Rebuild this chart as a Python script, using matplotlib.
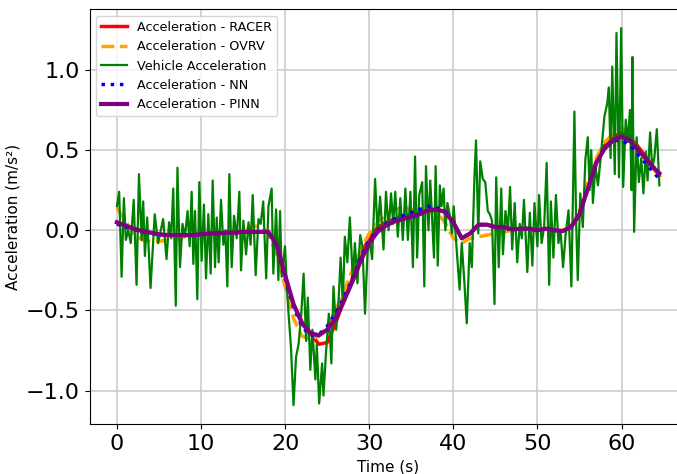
import matplotlib
matplotlib.use("Agg")
import matplotlib.pyplot as plt
import numpy as np

t_vehicle = [0.0, 0.27, 0.56, 0.83, 1.07, 1.35, 1.65, 2.0, 2.34, 2.62, 2.94, 3.13, 3.33, 3.6, 4.0, 4.5,
             4.9, 5.5, 5.9, 6.2, 6.45, 6.7, 7.0, 7.2, 7.5, 7.8, 8.1, 8.4, 8.65, 8.89, 9.09, 9.29,
             9.56, 9.8, 10.08, 10.35, 10.6, 10.87, 11.15, 11.39, 11.67, 11.87, 12.1, 12.38, 12.66, 12.9,
             13.13, 13.37, 13.65, 13.93, 14.25, 14.56, 14.76, 15.04, 15.36, 15.65, 15.9, 16.15, 16.5, 16.83,
             17.1, 17.4, 17.75, 18.02, 18.4, 18.6, 18.93, 19.2, 19.4, 19.6, 19.99, 20.2, 20.45, 20.7,
             21.0, 21.3, 21.6, 21.9, 22.2, 22.5, 22.7, 23.0, 23.25, 23.6, 23.77, 24.05, 24.4, 24.56,
             24.88, 25.2, 25.5, 25.75, 26.07, 26.35, 26.6, 26.86, 27.1, 27.4, 27.7, 28.05, 28.3, 28.6,
             28.93, 29.2, 29.5, 29.8, 30.05, 30.35, 30.7, 31.0, 31.3, 31.7, 32.0, 32.3, 32.6, 32.85,
             33.1, 33.4, 33.7, 34.0, 34.3, 34.6, 34.9, 35.2, 35.45, 35.7, 35.95, 36.3, 36.55, 36.75,
             37.05, 37.26, 37.7, 37.9, 38.15, 38.4, 38.6, 38.85, 39.05, 39.3, 39.55, 39.84, 40.05, 40.4,
             40.75, 41.0, 41.3, 41.6, 41.95, 42.2, 42.5, 42.7, 42.97, 43.2, 43.5, 43.8, 44.1, 44.35,
             44.6, 44.9, 45.1, 45.4, 45.7, 45.9, 46.2, 46.5, 46.75, 47.0, 47.3, 47.6, 47.9, 48.15,
             48.4, 48.8, 49.1, 49.4, 49.65, 50.0, 50.2, 50.5, 50.8, 51.1, 51.4, 51.6, 51.9, 52.2,
             52.5, 52.75, 53.05, 53.35, 53.7, 54.04, 54.4, 54.6, 54.8, 55.1, 55.4, 55.7, 55.99, 56.2,
             56.4, 56.6, 56.9, 57.2, 57.5, 57.97, 58.3, 58.5, 58.7, 58.9, 59.2, 59.4, 59.7, 59.96,
             60.2, 60.5, 60.75, 61.0, 61.2, 61.3, 61.5, 61.8, 62.06, 62.35, 62.6, 62.9, 63.1, 63.4,
             63.65, 63.9, 64.2, 64.5]
a_vehicle = [0.15, 0.24, -0.29, 0.2, -0.06, 0.0, -0.08, 0.19, -0.34, 0.35, -0.06, 0.18, -0.16, 0.08, -0.36, 0.1,
             -0.08, 0.07, -0.18, 0.05, -0.05, 0.26, -0.47, 0.39, -0.23, 0.04, -0.04, 0.12, -0.1, 0.24, -0.21, 0.12,
             -0.43, 0.3, -0.19, 0.16, -0.3, 0.1, -0.27, 0.31, -0.23, 0.08, -0.2, 0.19, -0.09, 0.0,
             -0.35, 0.35, -0.23, 0.09, -0.05, 0.24, -0.25, 0.06, -0.15, 0.05, -0.09, 0.22, -0.28, 0.07,
             0.04, 0.18, -0.3, 0.15, 0.26, -0.27, 0.13, -0.31, 0.12, -0.29, -0.1, -0.35, -0.55, -0.73,
             -1.09, -0.79, -0.71, -0.54, -0.27, -0.69, -0.42, -0.87, -0.62, -0.93, -0.71, -1.08, -0.83, -1.03,
             -0.75, -0.52, -0.83, -0.35, -0.62, -0.45, -0.17, -0.46, -0.04, -0.2, 0.08, -0.31, -0.08, -0.33,
             -0.03, -0.1, -0.52, -0.14, -0.06, -0.18, 0.32, -0.01, 0.21, -0.12, 0.24, 0.0, 0.23, 0.04,
             0.24, -0.04, 0.2, -0.06, 0.26, -0.06, 0.24, -0.23, 0.46, -0.17, 0.22, 0.3, -0.35, 0.4,
             0.0, 0.31, -0.17, 0.4, -0.22, 0.28, 0.15, 0.26, 0.0, 0.17, 0.1, -0.02, 0.15, -0.12,
             -0.37, -0.08, -0.31, -0.58, -0.08, -0.23, 0.31, 0.56, -0.02, 0.43, 0.32, 0.3, 0.12, 0.1,
             0.06, -0.46, 0.33, -0.23, 0.26, -0.15, 0.12, 0.0, 0.27, -0.12, 0.17, -0.2, 0.04, -0.05,
             0.19, -0.26, 0.11, -0.22, 0.17, -0.1, 0.22, -0.08, 0.02, 0.42, -0.34, 0.18, -0.17, 0.22,
             -0.08, 0.0, -0.23, -0.03, 0.125, -0.35, 0.74, 0.06, -0.31, 0.23, 0.02, 0.44, 0.58, 0.25,
             0.5, 0.17, 0.4, 0.28, 0.44, 0.71, 0.79, 0.89, 0.45, 1.02, 0.35, 1.23, 0.33, 1.26,
             0.27, 0.69, 0.55, 0.75, 0.25, 1.08, -0.01, 0.58, 0.30, 0.45, 0.23, 0.49, 0.31, 0.61,
             0.39, 0.45, 0.63, 0.28]

# model outputs, sampled every second
t_model = list(range(65)) + [64.5]
a_pinn = [0.05, 0.03, 0.01, -0.005, -0.015, -0.025, -0.03, -0.03, -0.03, -0.03, -0.025, -0.02, -0.02,
          -0.015, -0.015, -0.01, -0.01, -0.01, -0.01, -0.09, -0.28, -0.46, -0.58, -0.64, -0.655, -0.62,
          -0.55, -0.44, -0.32, -0.19, -0.08, -0.01, 0.03, 0.055, 0.07, 0.085, 0.1, 0.125, 0.13, 0.115,
          0.05, -0.05, -0.02, 0.035, 0.035, 0.02, 0.02, 0.005, 0.01, 0.01, 0.0, 0.01, 0.0, -0.005,
          0.02, 0.1, 0.26, 0.42, 0.51, 0.56, 0.585, 0.56, 0.5, 0.44, 0.38, 0.355]
a_racer = [0.05, 0.03, 0.01, -0.005, -0.015, -0.025, -0.03, -0.03, -0.03, -0.03, -0.025, -0.02, -0.02,
           -0.015, -0.015, -0.01, -0.01, -0.01, -0.01, -0.09, -0.28, -0.46, -0.57, -0.64, -0.71, -0.7,
           -0.58, -0.44, -0.3, -0.15, -0.05, 0.02, 0.05, 0.07, 0.09, 0.1, 0.11, 0.125, 0.13, 0.115,
           0.05, -0.05, -0.02, 0.035, 0.035, 0.02, 0.02, 0.005, 0.01, 0.01, 0.0, 0.01, 0.0, -0.005,
           0.02, 0.1, 0.27, 0.43, 0.53, 0.58, 0.61, 0.58, 0.52, 0.45, 0.38, 0.34]
a_ovrv = [0.14, 0.06, -0.02, -0.06, -0.07, -0.07, -0.06, -0.06, -0.04, -0.03, -0.02, -0.02, -0.01,
          -0.01, 0.0, 0.0, 0.02, 0.03, -0.02, -0.15, -0.35, -0.55, -0.66, -0.68, -0.66, -0.6,
          -0.5, -0.38, -0.25, -0.12, -0.02, 0.05, 0.1, 0.13, 0.14, 0.13, 0.12, 0.12, 0.11, 0.05,
          -0.05, -0.08, -0.05, -0.04, -0.03, -0.02, -0.01, 0.0, 0.01, 0.01, 0.0, 0.01, 0.0, 0.0,
          0.02, 0.12, 0.3, 0.45, 0.55, 0.6, 0.64, 0.58, 0.5, 0.43, 0.37, 0.33]
a_nn = [0.04, 0.02, 0.005, -0.01, -0.02, -0.025, -0.03, -0.03, -0.03, -0.03, -0.025, -0.02, -0.02,
        -0.015, -0.015, -0.01, -0.01, -0.01, -0.01, -0.1, -0.3, -0.48, -0.6, -0.655, -0.65, -0.6,
        -0.52, -0.42, -0.3, -0.17, -0.06, 0.0, 0.04, 0.07, 0.09, 0.11, 0.13, 0.15, 0.14, 0.12,
        0.05, -0.05, -0.02, 0.035, 0.035, 0.02, 0.02, 0.005, 0.01, 0.01, 0.0, 0.01, 0.0, -0.005,
        0.02, 0.1, 0.26, 0.41, 0.52, 0.56, 0.56, 0.53, 0.47, 0.41, 0.35, 0.32]

fig = plt.figure(figsize=(6.77, 4.74), dpi=100)
ax = fig.add_axes([0.1326, 0.1055, 0.8814, 0.8749])

ax.plot(t_model, a_racer, color="red", linewidth=2.5, label="Acceleration - RACER")
ax.plot(t_model, a_ovrv, color="orange", linestyle="--", linewidth=2.5, label="Acceleration - OVRV")
ax.plot(t_vehicle, a_vehicle, color="green", linewidth=1.6, label="Vehicle Acceleration")
ax.plot(t_model, a_nn, color="blue", linestyle=":", linewidth=2.5, label="Acceleration - NN")
ax.plot(t_model, a_pinn, color="purple", linewidth=3, label="Acceleration - PINN")

ax.set_xlim(-3.225, 67.725)
ax.set_ylim(-1.2075, 1.3775)
ax.set_xticks([0, 10, 20, 30, 40, 50, 60])
ax.set_yticks([-1.0, -0.5, 0.0, 0.5, 1.0])
ax.tick_params(labelsize=16)
ax.set_xlabel("Time (s)", fontsize=11)
ax.set_ylabel("Acceleration (m/s²)", fontsize=11)
ax.grid(True, color="#cccccc", linewidth=1.2)
ax.legend(loc="upper left", fontsize=9.2)

plt.savefig("out.png", dpi=100)
